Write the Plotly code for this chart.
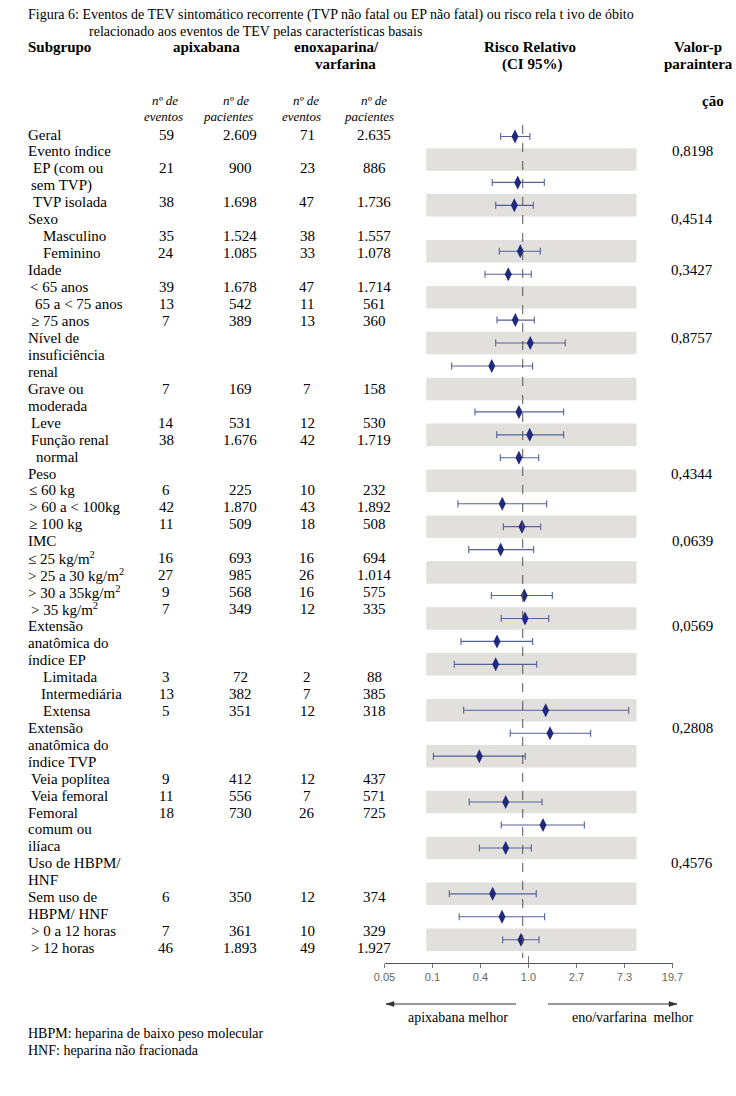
import math
import plotly.graph_objects as go

W, H = 736, 1096

# ---------------- data ----------------
TITLE_1 = "Figura 6: Eventos de TEV sintomático recorrente (TVP não fatal ou EP não fatal) ou risco rela t ivo de óbito"
TITLE_2 = "relacionado aos eventos de TEV pelas características basais"

SUBGROUPS = [
    "Geral", "Evento índice", "EP (com ou", "sem TVP)", "TVP isolada",
    "Sexo", "Masculino", "Feminino", "Idade", "< 65 anos",
    "65 a < 75 anos", "≥ 75 anos", "Nível de", "insuficiência", "renal",
    "Grave ou", "moderada", "Leve", "Função renal", "normal",
    "Peso", "≤ 60 kg", "> 60 a < 100kg", "≥ 100 kg", "IMC",
    "≤ 25 kg/m<sup>2</sup>", "> 25 a 30 kg/m<sup>2</sup>", "> 30 a 35kg/m<sup>2</sup>", "> 35 kg/m<sup>2</sup>", "Extensão",
    "anatômica do", "índice EP", "Limitada", "Intermediária", "Extensa",
    "Extensão", "anatômica do", "índice TVP", "Veia poplítea", "Veia femoral",
    "Femoral", "comum ou", "ilíaca", "Uso de HBPM/", "HNF",
    "Sem uso de", "HBPM/ HNF", "> 0 a 12 horas", "> 12 horas",
]
APIX_EVENTS = [
    "59", "", "21", "", "38", "", "35", "24", "", "39",
    "13", "7", "", "", "", "7", "", "14", "38", "",
    "", "6", "42", "11", "", "16", "27", "9", "7", "",
    "", "", "3", "13", "5", "", "", "", "9", "11",
    "18", "", "", "", "", "6", "", "7", "46",
]
APIX_PATIENTS = [
    "2.609", "", "900", "", "1.698", "", "1.524", "1.085", "", "1.678",
    "542", "389", "", "", "", "169", "", "531", "1.676", "",
    "", "225", "1.870", "509", "", "693", "985", "568", "349", "",
    "", "", "72", "382", "351", "", "", "", "412", "556",
    "730", "", "", "", "", "350", "", "361", "1.893",
]
ENO_EVENTS = [
    "71", "", "23", "", "47", "", "38", "33", "", "47",
    "11", "13", "", "", "", "7", "", "12", "42", "",
    "", "10", "43", "18", "", "16", "26", "16", "12", "",
    "", "", "2", "7", "12", "", "", "", "12", "7",
    "26", "", "", "", "", "12", "", "10", "49",
]
ENO_PATIENTS = [
    "2.635", "", "886", "", "1.736", "", "1.557", "1.078", "", "1.714",
    "561", "360", "", "", "", "158", "", "530", "1.719", "",
    "", "232", "1.892", "508", "", "694", "1.014", "575", "335", "",
    "", "", "88", "385", "318", "", "", "", "437", "571",
    "725", "", "", "", "", "374", "", "329", "1.927",
]
P_VALUES = [
    "", "0,8198", "", "", "", "0,4514", "", "", "0,3427", "",
    "", "", "0,8757", "", "", "", "", "", "", "",
    "0,4344", "", "", "", "0,0639", "", "", "", "", "0,0569",
    "", "", "", "", "", "0,2808", "", "", "", "",
    "", "", "", "0,4576", "", "", "", "", "",
]

# forest panel rows (relative risk, 95% CI); None = empty row
RR_EST = [0.755, None, 0.799, 0.744, None, 0.843, 0.656, None, 0.760, 1.038,
          0.465, None, 0.82, 1.025, 0.82, None, 0.579, 0.873, 0.56, None,
          0.916, 0.93, 0.519, 0.505, None, 1.43, 1.565, 0.359, None, 0.622,
          1.353, 0.622, None, 0.474, 0.576, 0.855]
RR_LO = [0.56, None, 0.47, 0.505, None, 0.544, 0.404, None, 0.519, 0.505,
         0.202, None, 0.328, 0.516, 0.556, None, 0.23, 0.592, 0.288, None,
         0.461, 0.567, 0.245, 0.213, None, 0.259, 0.684, 0.138, None, 0.291,
         0.567, 0.359, None, 0.192, 0.236, 0.584]
RR_HI = [1.03, None, 1.39, 1.105, None, 1.279, 1.06, None, 1.128, 2.15,
         1.09, None, 2.08, 2.08, 1.237, None, 1.461, 1.289, 1.114, None,
         1.642, 1.523, 1.09, 1.186, None, 8.07, 3.65, 0.935, None, 1.325,
         3.2, 1.06, None, 1.176, 1.40, 1.245]
REF_LINE = 0.887

TICK_VALUES = [0.0498, 0.1353, 0.3679, 1.0, 2.718, 7.389, 20.09]
TICK_LABELS = ["0.05", "0.1", "0.4", "1.0", "2.7", "7.3", "19.7"]
BAND_RANGE = [0.119, 9.49]

FOOTNOTES = ["HBPM: heparina de baixo peso molecular", "HNF: heparina não fracionada"]

# ---------------- layout helpers ----------------
INDENT = [27, 27, 32, 30, 32, 27, 42, 42, 27, 29,
          34, 30, 27, 27, 27, 27, 27, 30, 30, 35,
          27, 28, 28, 28, 27, 27, 27, 27, 30, 27,
          27, 27, 42, 40, 42, 27, 27, 27, 30, 30,
          27, 27, 27, 27, 27, 27, 27, 30, 30]
SERIF = "Liberation Serif, Times New Roman, serif"
SANS = "Liberation Sans, Arial, sans-serif"


def px(x):
    return x / W


def py(y):
    return 1 - y / H


ann = []


def text(s, x, y, size=15, anchor="left", bold=False, italic=False, color="black", family=SERIF):
    if bold:
        s = "<b>" + s + "</b>"
    if italic:
        s = "<i>" + s + "</i>"
    ann.append(dict(text=s, x=px(x), y=py(y), xref="paper", yref="paper",
                    xanchor=anchor, yanchor="middle", showarrow=False,
                    font=dict(family=family, size=size, color=color)))


# title
text(TITLE_1, 26, 15, size=14)
text(TITLE_2, 87, 31.5, size=14)

# header
text("Subgrupo", 26, 47, bold=True)
text("apixabana", 206, 47, anchor="center", bold=True)
text("enoxaparina/", 336, 47, anchor="center", bold=True)
text("varfarina", 345, 64, anchor="center", bold=True)
text("Risco Relativo", 530, 47, anchor="center", bold=True)
text("(CI 95%)", 532, 64, anchor="center", bold=True)
text("Valor-p", 698, 47, anchor="center", bold=True)
text("paraintera", 698, 64, anchor="center", bold=True)
text("ção", 713, 101, anchor="center", bold=True)
for cx, lab in zip([165, 236, 306, 374], ["nº de"] * 4):
    text(lab, cx, 101, size=13, anchor="center", italic=True)
for cx, lab in zip([163, 228, 301, 369], ["eventos", "pacientes", "eventos", "pacientes"]):
    text(lab, cx, 117, size=13, anchor="center", italic=True)

# table rows
ROW0, PITCH = 134.5, 16.95
COLS = [166, 240, 307, 374]
for i, lab in enumerate(SUBGROUPS):
    y = ROW0 + i * PITCH
    text(lab, INDENT[i] - 1, y)
    for cx, col in zip(COLS, [APIX_EVENTS, APIX_PATIENTS, ENO_EVENTS, ENO_PATIENTS]):
        if col[i]:
            text(col[i], cx, y, anchor="center")
    if P_VALUES[i]:
        text(P_VALUES[i], 692, y, anchor="center")

# direction labels
text("apixabana melhor", 458, 1017, size=14, anchor="center")
text("eno/varfarina  melhor", 633, 1017, size=14, anchor="center")

# footnotes
text(FOOTNOTES[0], 26, 1033, size=14)
text(FOOTNOTES[1], 26, 1050, size=14)

# ---------------- forest ----------------
rows = [i for i, v in enumerate(RR_EST) if v is not None]
est = [RR_EST[i] for i in rows]
plus = [RR_HI[i] - RR_EST[i] for i in rows]
minus = [RR_EST[i] - RR_LO[i] for i in rows]

fig = go.Figure()
fig.add_trace(go.Scatter(
    x=est, y=rows, mode="markers",
    marker=dict(symbol="diamond-tall", size=10, color="#1f2a7c"),
    error_x=dict(type="data", symmetric=False, array=plus, arrayminus=minus,
                 color="#56609a", thickness=1.1, width=3.5),
    hoverinfo="skip",
))

shapes = []
for k in range(len(RR_EST)):
    if k % 2 == 1:
        shapes.append(dict(type="rect", xref="x", yref="y",
                           x0=BAND_RANGE[0], x1=BAND_RANGE[1], y0=k - 0.49, y1=k + 0.49,
                           fillcolor="#e2e0dd", line=dict(width=0), layer="below"))
shapes.append(dict(type="line", xref="x", yref="y", x0=REF_LINE, x1=REF_LINE,
                   y0=-0.5, y1=35.8, line=dict(color="#555", width=1, dash="dash")))
shapes.append(dict(type="line", xref="x", yref="paper", x0=1.0, x1=1.0,
                   y0=py(967), y1=py(956), line=dict(color="#777", width=1)))


# arrows (line + triangular head) in paper coordinates
def arrow(x_tail, x_head, y):
    shapes.append(dict(type="line", xref="paper", yref="paper",
                       x0=px(x_tail), x1=px(x_head), y0=py(y), y1=py(y),
                       line=dict(color="#333", width=1)))
    d = 8 if x_head < x_tail else -8
    path = "M {} {} L {} {} L {} {} Z".format(
        px(x_head), py(y), px(x_head + d), py(y - 2.5), px(x_head + d), py(y + 2.5))
    shapes.append(dict(type="path", xref="paper", yref="paper", path=path,
                       fillcolor="#333", line=dict(color="#333", width=0.5)))


arrow(516, 386, 1004)
arrow(548, 677, 1004)

fig.update_layout(
    template="none",
    width=W, height=H, autosize=False,
    margin=dict(l=0, r=0, t=0, b=0, pad=0, autoexpand=False),
    paper_bgcolor="white", plot_bgcolor="rgba(0,0,0,0)",
    showlegend=False,
    annotations=ann,
    shapes=shapes,
    xaxis=dict(type="log", domain=[px(384.5), px(672.5)],
               range=[math.log10(TICK_VALUES[0]), math.log10(TICK_VALUES[-1])],
               showline=True, linecolor="#555", linewidth=1, automargin=False,
               ticks="outside", ticklen=4, tickcolor="#777",
               tickvals=TICK_VALUES, ticktext=TICK_LABELS,
               tickfont=dict(family=SANS, size=11, color="#666"),
               showgrid=False, zeroline=False, fixedrange=True),
    yaxis=dict(domain=[py(962.7), py(125)], range=[36, -0.5], automargin=False,
               visible=False, fixedrange=True),
)

fig.write_html("out.html", config={"displayModeBar": False},
               post_script="document.body.style.margin='0';document.body.style.overflow='hidden';")
